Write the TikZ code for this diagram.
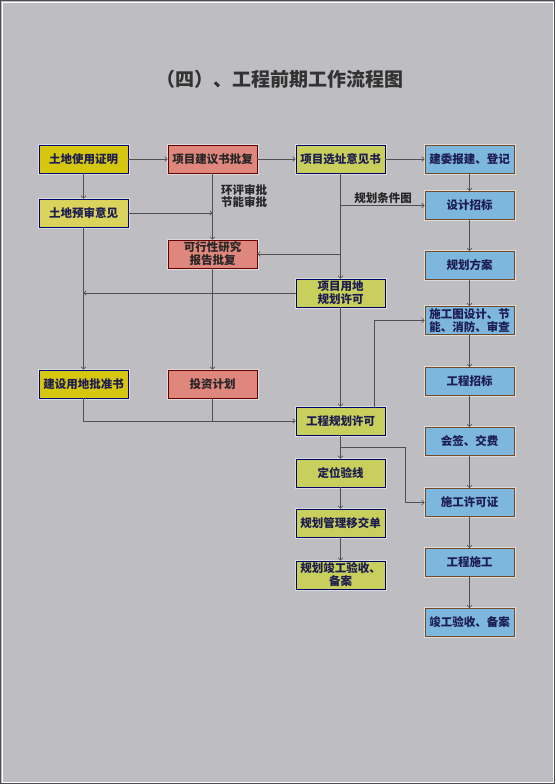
\documentclass[tikz,border=0pt]{standalone}
\usepackage{fontspec}
\newfontfamily\cjk{Noto Sans CJK SC}
\usetikzlibrary{arrows.meta}
\definecolor{bg}{HTML}{BEBDC2}
\definecolor{ylA}{HTML}{D6C60E}
\definecolor{ylB}{HTML}{DAD35C}
\definecolor{ylG}{HTML}{C8CF5C}
\definecolor{sal}{HTML}{E0877D}
\definecolor{blu}{HTML}{7DB7DE}
\definecolor{ink}{HTML}{1C1C50}
\definecolor{ln}{HTML}{505050}
\tikzset{
  box/.style={minimum width=89pt,minimum height=28pt,inner sep=0pt,align=center,
    font=\cjk\bfseries\fontsize{11.5}{13}\selectfont,text=ink,line width=0.8pt,
    preaction={draw=white,draw opacity=0.45,line width=3pt}},
  ybox/.style={box,fill=ylA,draw=blue!45!black},
  lbox/.style={box,fill=ylB,draw=blue!45!black},
  gbox/.style={box,fill=ylG,draw=blue!40!black},
  sbox/.style={box,fill=sal,draw=red!40!black,text=black!85},
  bbox/.style={box,fill=blu,draw=brown!60!black},
  conn/.style={draw=ln,line width=0.6pt},
  arr/.style={conn,-{To[length=3pt,width=5pt]}},
  lbl/.style={font=\cjk\bfseries\fontsize{11.5}{12.5}\selectfont,text=black!85,align=center,inner sep=0pt}
}
\begin{document}
\begin{tikzpicture}[x=1pt,y=-1pt]
\useasboundingbox (0,0) rectangle (555,784);
\fill[bg] (0,0) rectangle (555,784);
\draw[black!70,line width=0.8pt] (0.4,0.4) rectangle (554.6,783.6);
\draw[white,line width=0.8pt] (2,2) rectangle (553,782);
\node[font=\cjk\bfseries\fontsize{19}{22}\selectfont,text=black!80] (title) at (280,79) {（四）、工程前期工作流程图};
% column A
\node[ybox] (a1) at (83.5,159) {土地使用证明};
\node[lbox] (a2) at (83.5,213) {土地预审意见};
\node[ybox] (a3) at (83.5,384) {建设用地批准书};
% column B
\node[sbox] (b1) at (212.5,159) {项目建议书批复};
\node[sbox] (b2) at (212.5,254) {可行性研究\\报告批复};
\node[sbox] (b3) at (212.5,384) {投资计划};
% column C
\node[gbox] (c1) at (340.5,159) {项目选址意见书};
\node[gbox] (c2) at (340.5,293) {项目用地\\规划许可};
\node[gbox] (c3) at (340.5,421) {工程规划许可};
\node[gbox] (c4) at (340.5,473) {定位验线};
\node[gbox] (c5) at (340.5,523) {规划管理移交单};
\node[gbox] (c6) at (340.5,575) {规划竣工验收、\\备案};
% column D
\node[bbox] (d1) at (469.5,159) {建委报建、登记};
\node[bbox] (d2) at (469.5,205.5) {设计招标};
\node[bbox] (d3) at (469.5,265.5) {规划方案};
\node[bbox] (d4) at (469.5,320.5) {施工图设计、节\\能、消防、审查};
\node[bbox] (d5) at (469.5,381.5) {工程招标};
\node[bbox] (d6) at (469.5,441.5) {会签、交费};
\node[bbox] (d7) at (469.5,502.5) {施工许可证};
\node[bbox] (d8) at (469.5,562.5) {工程施工};
\node[bbox] (d9) at (469.5,622.5) {竣工验收、备案};
% labels
\node[lbl] (l1) at (244,196) {环评审批\\节能审批};
\node[lbl] (l2) at (383,198) {规划条件图};
% coordinates
\coordinate (pA2) at (212.5,213);
\coordinate (pC1) at (340.5,254);
\coordinate (pC2) at (340.5,205.5);
\coordinate (pA3) at (83.5,293);
\coordinate (pJ) at (83.5,421);
\coordinate (pJb) at (212.5,421);
\coordinate (pU1) at (374,407);
\coordinate (pU2) at (374,320.5);
\coordinate (pS1) at (340.5,447);
\coordinate (pS2) at (405.5,447);
\coordinate (pS3) at (405.5,502.5);
% connectors row 1
\draw[arr] (a1) -- (b1);
\draw[arr] (b1) -- (c1);
\draw[arr] (c1) -- (d1);
% column A
\draw[arr] (a1) -- (a2);
\draw[arr] (a2) -- (a3);
\draw[arr] (a2.east) -- (pA2);
% column B
\draw[arr] (b1) -- (b2);
\draw[arr] (b2) -- (b3);
\draw[arr] (pC1) -- (b2.east);
% column C
\draw[arr] (c1) -- (c2);
\draw[arr] (pC2) -- (d2.west);
\draw[arr] (c2.west) -- (pA3);
\draw[arr] (c2) -- (c3);
\draw[arr] (a3.south) -- (pJ) -- (c3.west);
\draw[conn] (b3.south) -- (pJb);
\draw[arr] (pU1) -- (pU2) -- (d4.west);
\draw[arr] (c3) -- (c4);
\draw[arr] (pS1) -- (pS2) -- (pS3) -- (d7.west);
\draw[arr] (c4) -- (c5);
\draw[arr] (c5) -- (c6);
% column D
\draw[arr] (d1) -- (d2);
\draw[arr] (d2) -- (d3);
\draw[arr] (d3) -- (d4);
\draw[arr] (d4) -- (d5);
\draw[arr] (d5) -- (d6);
\draw[arr] (d6) -- (d7);
\draw[arr] (d7) -- (d8);
\draw[arr] (d8) -- (d9);
\end{tikzpicture}
\end{document}
